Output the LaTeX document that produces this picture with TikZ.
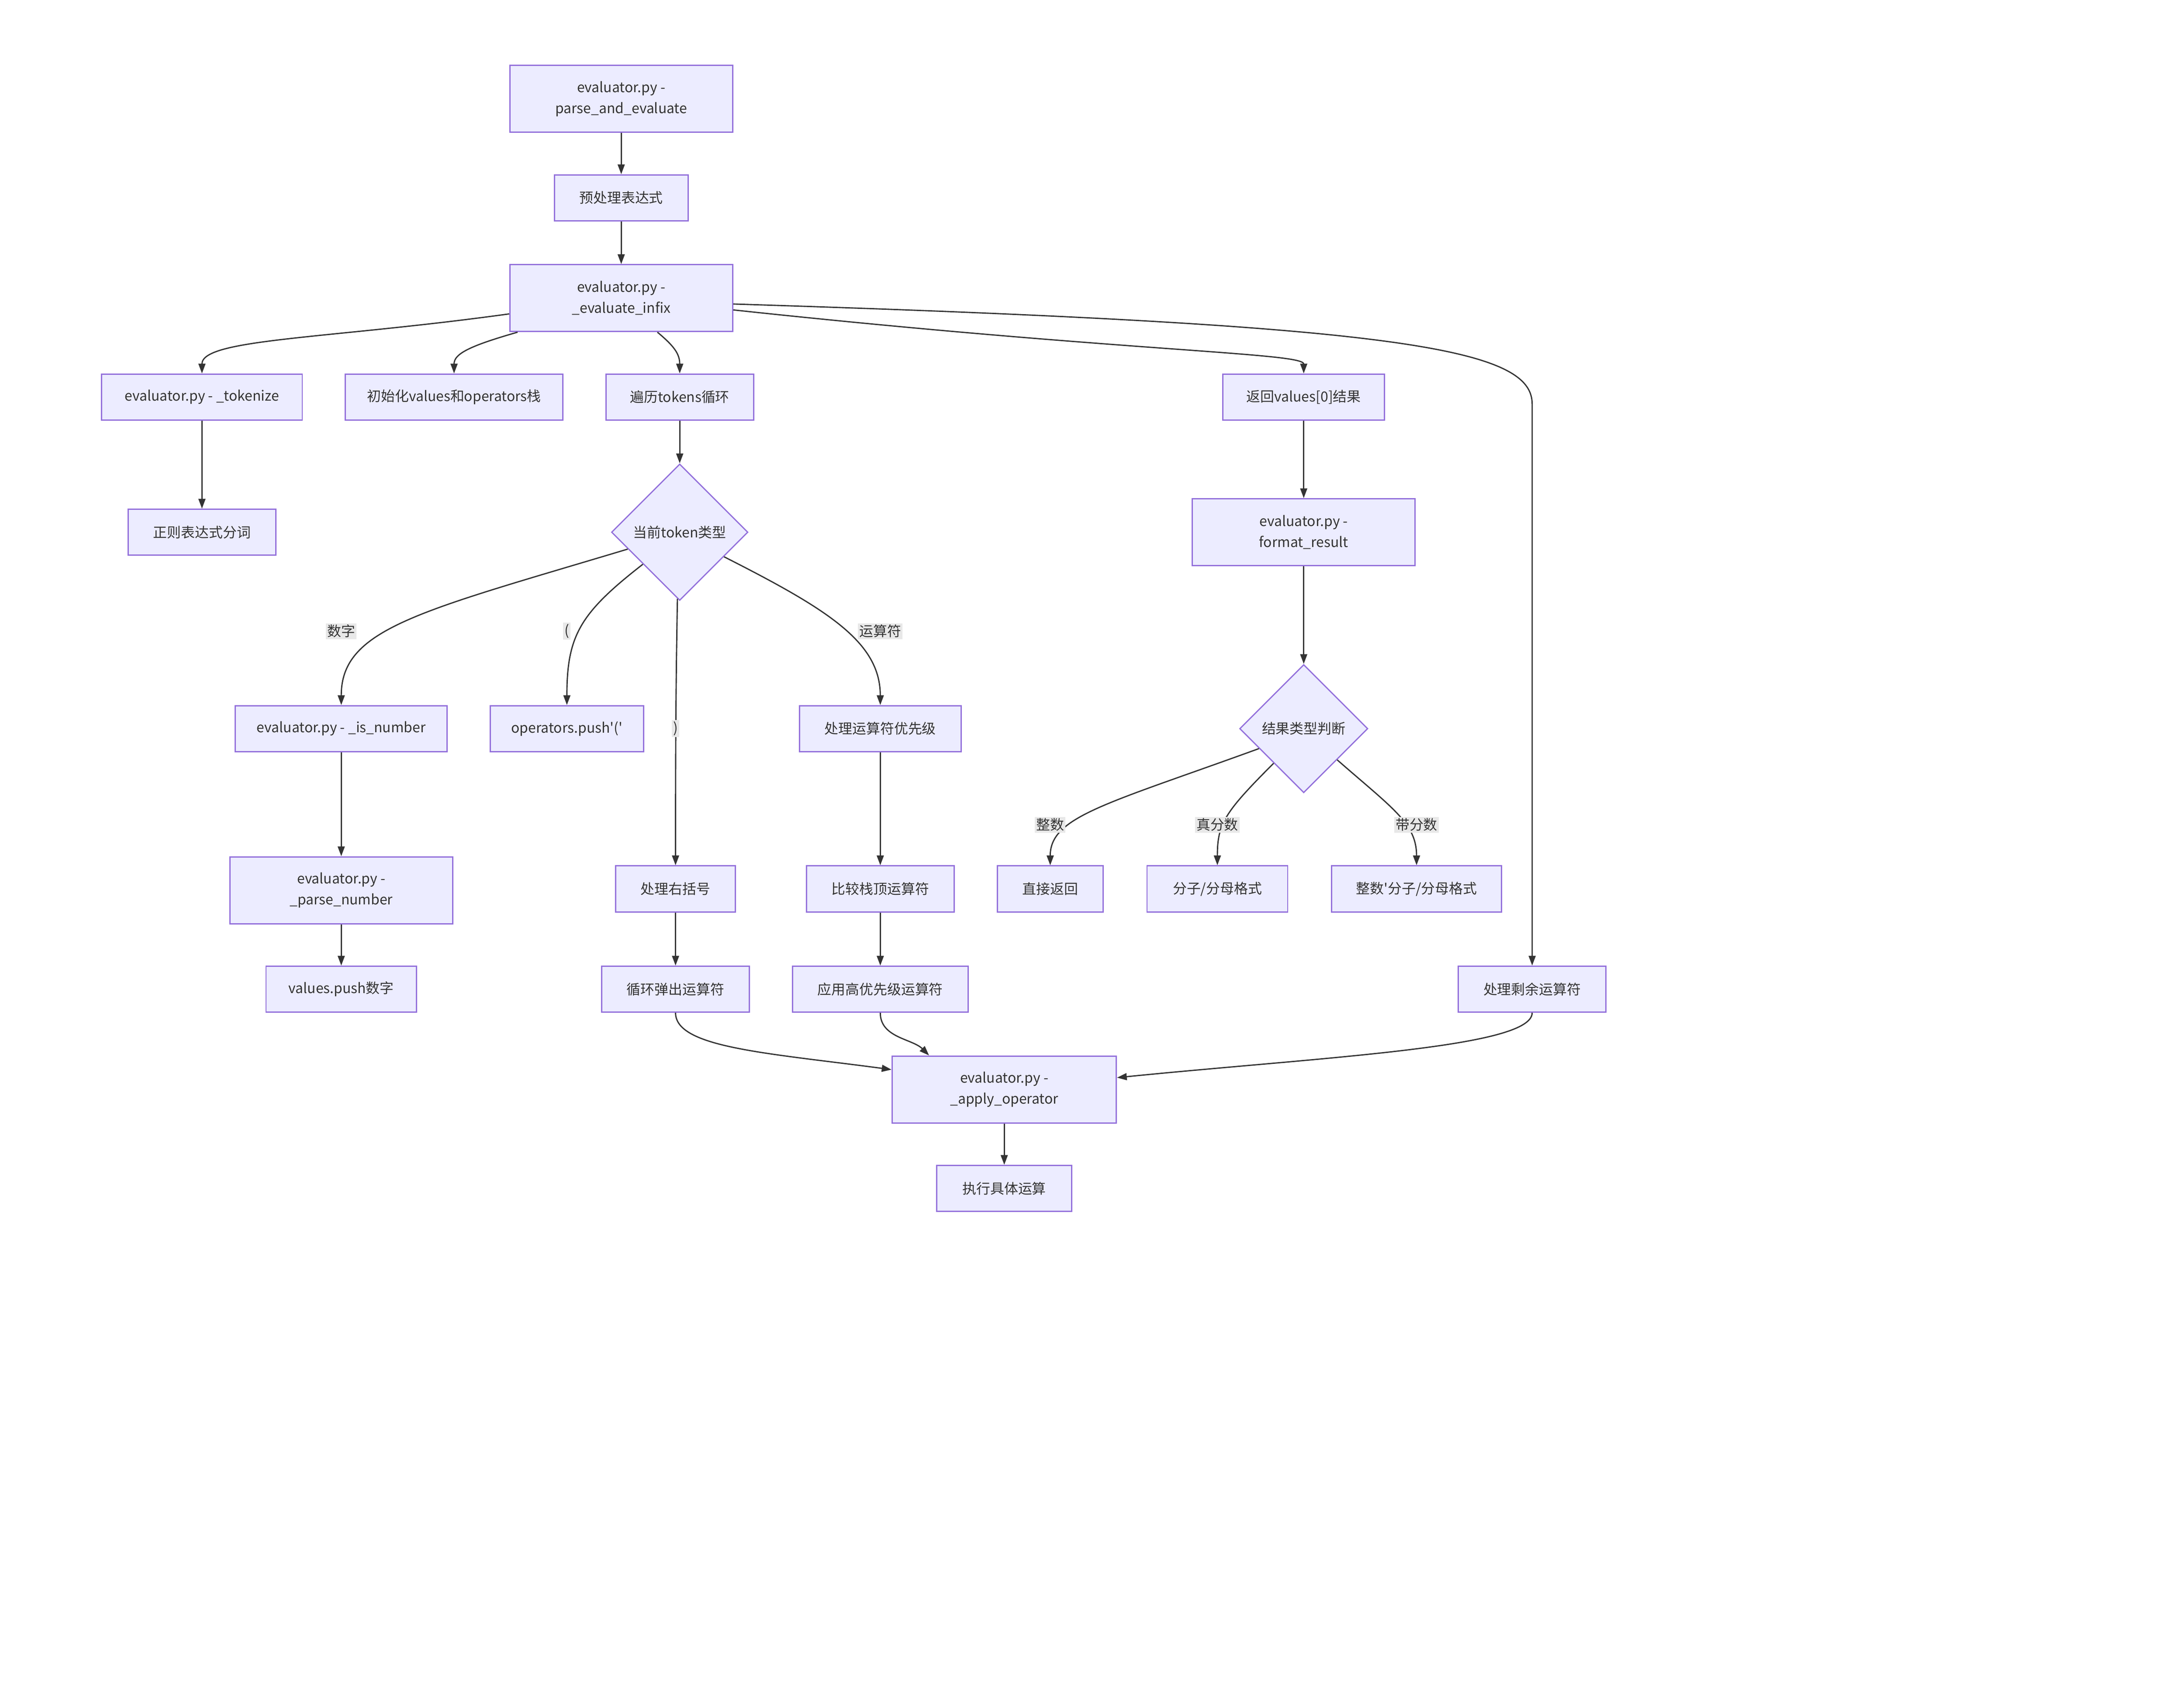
\documentclass[tikz,border=0pt]{standalone}
\usepackage{fontspec}
\setmainfont{Noto Sans CJK SC}[Ligatures=TeXOff]
\usetikzlibrary{arrows.meta,shapes.geometric}
\definecolor{boxfill}{HTML}{ECECFF}
\definecolor{boxline}{HTML}{9370DB}
\definecolor{ink}{HTML}{333333}
\definecolor{lblfill}{HTML}{E8E8E8}
\tikzset{
  box/.style={draw=boxline, fill=boxfill, line width=0.9pt, text=ink, align=center, inner sep=0pt, minimum height=33pt},
  tall/.style={box, minimum height=48pt},
  decide/.style={diamond, draw=boxline, fill=boxfill, line width=0.9pt, text=ink, inner sep=0pt},
  lbl/.style={fill=lblfill, text=ink, inner sep=1pt},
  arr/.style={draw=ink, line width=0.9pt, -{Triangle[length=7pt,width=5pt]}}
}
\begin{document}
\begin{tikzpicture}[x=1pt, y=-1pt, font=\fontsize{10pt}{15pt}\selectfont]
    \useasboundingbox (0,0) rectangle (1568,1225);

    % Main chain
    \node[tall, minimum width=160pt] (top) at (446,71) {evaluator.py -\\parse\_and\_evaluate};
    \node[box, minimum width=96pt] (prep) at (446,142) {预处理表达式};
    \node[tall, minimum width=160pt] (infix) at (446,214) {evaluator.py -\\\_evaluate\_infix};

    % Second row
    \node[box, minimum width=144pt] (tok) at (145,285) {evaluator.py - \_tokenize};
    \node[box, minimum width=156pt] (init) at (326,285) {初始化values和operators栈};
    \node[box, minimum width=106pt] (loop) at (488,285) {遍历tokens循环};
    \node[box, minimum width=116pt] (ret) at (936,285) {返回values[0]结果};

    % Token handling
    \node[box, minimum width=106pt] (regex) at (145,382) {正则表达式分词};
    \node[decide, minimum width=98pt, minimum height=98pt] (ttype) at (488,382) {当前token类型};
    \node[box, minimum width=152pt] (isnum) at (245,523) {evaluator.py - \_is\_number};
    \node[box, minimum width=110pt] (pushp) at (407,523) {operators.push'('};
    \node[box, minimum width=116pt] (prec) at (632,523) {处理运算符优先级};
    \node[tall, minimum width=160pt] (parse) at (245,639) {evaluator.py -\\\_parse\_number};
    \node[box, minimum width=86pt] (rpar) at (485,638) {处理右括号};
    \node[box, minimum width=106pt] (cmp) at (632,638) {比较栈顶运算符};
    \node[box, minimum width=108pt] (vpush) at (245,710) {values.push数字};
    \node[box, minimum width=106pt] (popl) at (485,710) {循环弹出运算符};
    \node[box, minimum width=126pt] (apphi) at (632,710) {应用高优先级运算符};
    \node[box, minimum width=106pt] (rem) at (1100,710) {处理剩余运算符};
    \node[tall, minimum width=161pt] (apply) at (721,782) {evaluator.py -\\\_apply\_operator};
    \node[box, minimum width=97pt] (exec) at (721,853) {执行具体运算};

    % Result formatting
    \node[tall, minimum width=160pt] (fmt) at (936,382) {evaluator.py -\\format\_result};
    \node[decide, minimum width=92pt, minimum height=92pt] (rtype) at (936,523) {结果类型判断};
    \node[box, minimum width=76pt] (direct) at (754,638) {直接返回};
    \node[box, minimum width=101pt] (frac) at (874,638) {分子/分母格式};
    \node[box, minimum width=122pt] (mixed) at (1017,638) {整数'分子/分母格式};

    \coordinate (bend) at (1100,290);

    % Connectors
    \draw[arr] (top) -- (prep);
    \draw[arr] (prep) -- (infix);
    \draw[arr] (infix.188) .. controls +(-130,18) and +(0,-25) .. (tok.north);
    \draw[arr] ([xshift=6pt]infix.south west) .. controls +(-35,10) and +(0,-14) .. (init.north);
    \draw[arr] ([xshift=26pt]infix.south) .. controls +(12,10) and +(0,-14) .. (loop.north);
    \draw[arr] (infix.354) .. controls +(280,30) and +(0,-15) .. (ret.north);
    \draw[arr] (infix.357) .. controls +(480,15) and +(0,-40) .. (bend) -- (rem.north);
    \draw[arr] (tok) -- (regex);
    \draw[arr] (loop) -- (ttype);
    \draw[arr] (ttype.198) .. controls +(-150,45) and +(0,-55) .. (isnum.north);
    \draw[arr] (ttype.221) .. controls +(-45,35) and +(0,-50) .. (pushp.north);
    \draw[arr] (ttype.268) .. controls +(-1,60) and +(0,-100) .. (rpar.north);
    \draw[arr] (ttype.331) .. controls +(75,38) and +(0,-45) .. (prec.north);
    \draw[arr] (isnum) -- (parse);
    \draw[arr] (parse) -- (vpush);
    \draw[arr] (rpar) -- (popl);
    \draw[arr] (prec) -- (cmp);
    \draw[arr] (cmp) -- (apphi);
    \draw[arr] (popl.south) .. controls +(0,25) and +(-90,-12) .. (apply.170);
    \draw[arr] (apphi.south) .. controls +(0,18) and +(-12,-12) .. ([xshift=-54pt]apply.north);
    \draw[arr] (rem.south) .. controls +(0,25) and +(150,-15) .. (apply.6);
    \draw[arr] (apply) -- (exec);
    \draw[arr] (ret) -- (fmt);
    \draw[arr] (fmt) -- (rtype);
    \draw[arr] (rtype.204) .. controls +(-110,40) and +(0,-35) .. (direct.north);
    \draw[arr] (rtype.229) .. controls +(-35,35) and +(0,-30) .. (frac.north);
    \draw[arr] (rtype.317) .. controls +(40,35) and +(0,-30) .. (mixed.north);

    % Labels
    \node[lbl] (lnum) at (245,453) {数字};
    \node[lbl] (lopen) at (407,453) {(};
    \node[lbl] (lclose) at (485,523) {)};
    \node[lbl] (lop) at (632,453) {运算符};
    \node[lbl] (lint) at (754,592) {整数};
    \node[lbl] (lprop) at (874,592) {真分数};
    \node[lbl] (lmix) at (1017,592) {带分数};
\end{tikzpicture}
\end{document}
